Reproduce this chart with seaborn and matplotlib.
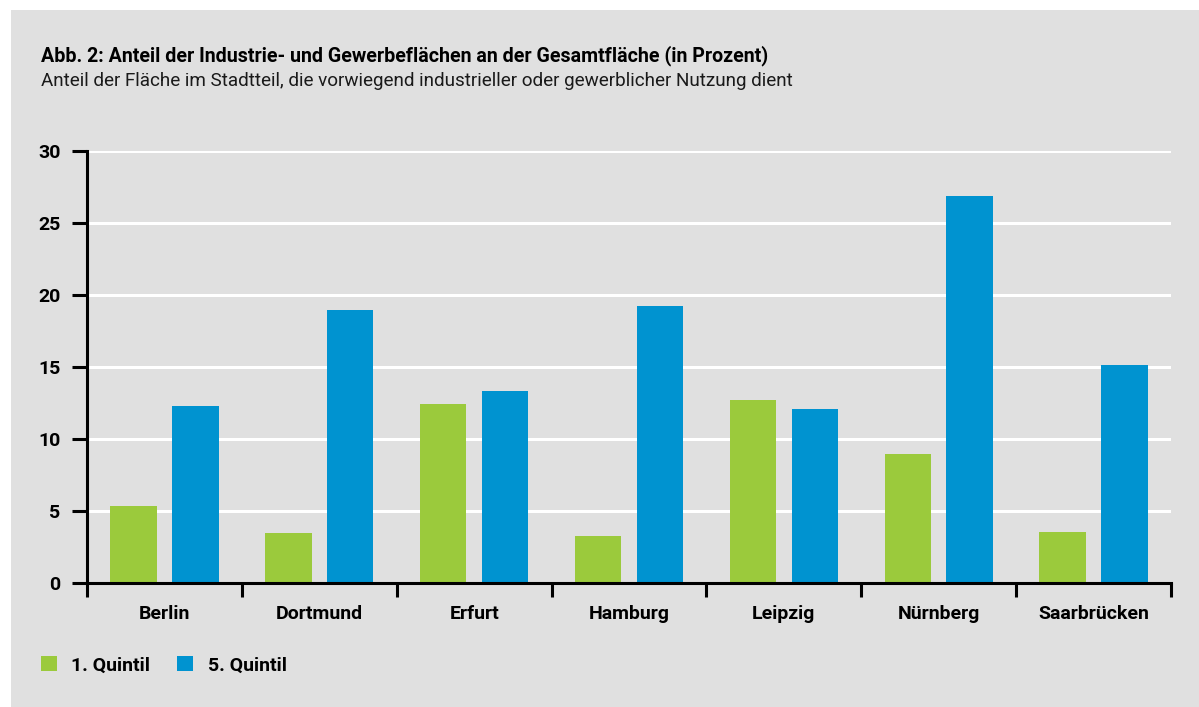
import pandas as pd
import matplotlib.pyplot as plt
import seaborn as sns
from matplotlib import font_manager
from matplotlib.patches import Rectangle, Patch
from matplotlib.ticker import FixedLocator

# Data
cities = ["Berlin", "Dortmund", "Erfurt", "Hamburg", "Leipzig", "Nürnberg", "Saarbrücken"]
quintil_1 = [5.35, 3.45, 12.45, 3.25, 12.7, 8.95, 3.55]
quintil_5 = [12.3, 18.95, 13.35, 19.25, 12.1, 26.9, 15.15]
series_names = ["1. Quintil", "5. Quintil"]
y_ticks = [0, 5, 10, 15, 20, 25, 30]

title = "Abb. 2: Anteil der Industrie- und Gewerbeflächen an der Gesamtfläche (in Prozent)"
subtitle = "Anteil der Fläche im Stadtteil, die vorwiegend industrieller oder gewerblicher Nutzung dient"

df = pd.DataFrame({
    "city": cities * 2,
    "value": quintil_1 + quintil_5,
    "group": [series_names[0]] * len(cities) + [series_names[1]] * len(cities),
})

colors = {"1. Quintil": "#9bca3c", "5. Quintil": "#0093d0"}
bg = "#e0e0e0"

sns.set_style("white")

installed = {f.name for f in font_manager.fontManager.ttflist}
family = "Roboto" if "Roboto" in installed else "DejaVu Sans"
plt.rcParams["font.family"] = [family, "DejaVu Sans"]
plt.rcParams["text.color"] = "black"
plt.rcParams["xtick.color"] = "black"
plt.rcParams["ytick.color"] = "black"

W, H = 1199, 707
fig = plt.figure(figsize=(W / 100, H / 100), dpi=100)
fig.patch.set_facecolor("white")
fig.patches.append(Rectangle((11 / W, 0), 1 - 11 / W, 1 - 10 / H, transform=fig.transFigure,
                             facecolor=bg, edgecolor="none", zorder=-5))

ax = fig.add_axes([87 / W, 124 / H, (1171 - 87) / W, 432 / H])
ax.set_facecolor(bg)

sns.barplot(data=df, x="city", y="value", hue="group", palette=colors, order=cities,
            hue_order=series_names, width=0.8, gap=0.25, saturation=1, linewidth=0,
            legend=False, ax=ax, zorder=3)

ax.set_ylim(0, 30)
ax.set_xlim(-0.5, len(cities) - 0.5)
ax.set_yticks(y_ticks)
ax.yaxis.grid(True, color="white", linewidth=2.2, zorder=1)
ax.set_axisbelow(True)
ax.set(xlabel="", ylabel="")

for side in ["top", "right"]:
    ax.spines[side].set_visible(False)
for side in ["left", "bottom"]:
    ax.spines[side].set_color("black")
    ax.spines[side].set_linewidth(2.2)
    ax.spines[side].set_zorder(4)

ax.tick_params(axis="y", left=True, length=11, width=2.2, pad=8, labelsize=14, color="black")
ax.tick_params(axis="x", which="major", bottom=True, length=0, pad=16, labelsize=14)
ax.xaxis.set_minor_locator(FixedLocator([i - 0.5 for i in range(len(cities) + 1)]))
ax.tick_params(axis="x", which="minor", bottom=True, length=10, width=2.2, color="black")
for lbl in ax.get_xticklabels() + ax.get_yticklabels():
    lbl.set_fontweight("bold")

fig.text(41 / W, 1 - 61.5 / H, title, fontsize=14.1, fontweight="bold", va="baseline")
fig.text(41 / W, 1 - 86.5 / H, subtitle, fontsize=13.55, color="#1a1a1a", va="baseline")

handles = [Patch(facecolor=colors[s], edgecolor="none") for s in series_names]
fig.legend(handles, series_names, loc="center left", bbox_to_anchor=(41 / W, 41.5 / H),
           ncol=2, frameon=False, borderpad=0, borderaxespad=0, handlelength=0.8,
           handleheight=0.8, handletextpad=0.75, columnspacing=1.4,
           prop={"size": 14, "weight": "bold"})

fig.savefig("out.png", dpi=100, facecolor=fig.get_facecolor())
